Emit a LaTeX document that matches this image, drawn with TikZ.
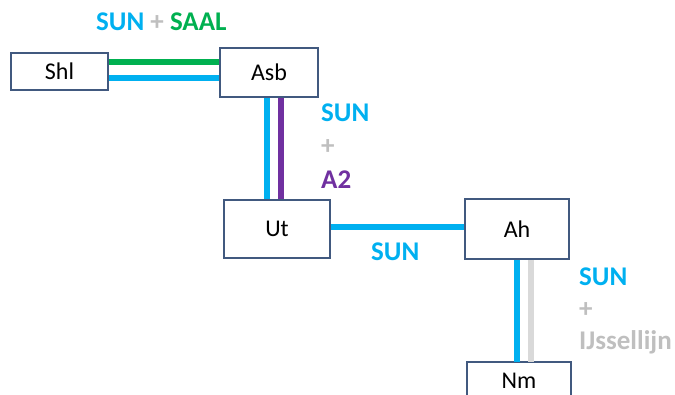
\documentclass[tikz,border=0pt]{standalone}
\usepackage{fontspec}
\setmainfont{Carlito}
\definecolor{sunblue}{HTML}{00B0F0}
\definecolor{saalgreen}{HTML}{00B050}
\definecolor{atwo}{HTML}{7030A0}
\definecolor{ijgray}{HTML}{D9D9D9}
\definecolor{plusgray}{HTML}{BFBFBF}
\definecolor{boxline}{HTML}{41597F}
\begin{document}
\begin{tikzpicture}[x=1pt,y=-1pt,
  station/.style={draw=boxline,line width=2pt,fill=white,inner sep=0pt,font=\fontsize{24}{28}\selectfont},
  track/.style={line width=6pt},
  lbl/.style={font=\bfseries\fontsize{27}{32}\selectfont,inner sep=0pt,anchor=base west}]
\useasboundingbox (0,0) rectangle (675,394);
\node[station,minimum width=97pt,minimum height=37pt] (shl) at (59.5,71.5) {Shl};
\node[station,minimum width=98pt,minimum height=49pt] (asb) at (269,72.5) {Asb};
\node[station,minimum width=106pt,minimum height=58pt] (ut) at (277,229) {Ut};
\node[station,minimum width=104pt,minimum height=60pt] (ah) at (517,229) {Ah};
% Nm box runs past the lower edge of the picture
\begin{scope}
\clip (0,0) rectangle (675,394);
\draw[draw=boxline,line width=2pt,fill=white] (467,362) rectangle (571,420);
\end{scope}
\coordinate (nmtop) at (519,362);
\node[inner sep=0pt,font=\fontsize{24}{28}\selectfont,anchor=base] (nm) at (519,388) {Nm};
% tracks
\draw[track,saalgreen] (shl.east |- 0,62) -- (asb.west |- 0,62);
\draw[track,sunblue] (shl.east |- 0,78) -- (asb.west |- 0,78);
\draw[track,sunblue] (asb.south -| 267,0) -- (ut.north -| 267,0);
\draw[track,atwo] (asb.south -| 281,0) -- (ut.north -| 281,0);
\draw[track,sunblue] (ut.east |- 0,227) -- (ah.west |- 0,227);
\draw[track,sunblue] (ah.south -| 517,0) -- (nmtop -| 517,0);
\draw[track,ijgray] (ah.south -| 531,0) -- (nmtop -| 531,0);
% labels
\node[lbl] (l1) at (96,30) {\textcolor{sunblue}{SUN} \textcolor{plusgray}{+} \textcolor{saalgreen}{SAAL}};
\node[lbl,sunblue] (l2a) at (321,121) {SUN};
\node[lbl,plusgray,anchor=west] (l2b) at (321,147) {+};
\node[lbl,atwo] (l2c) at (321,188) {A2};
\node[lbl,sunblue] (l3) at (371,260) {SUN};
\node[lbl,sunblue] (l4a) at (579,285) {SUN};
\node[lbl,plusgray,anchor=west] (l4b) at (579,310) {+};
\node[lbl,plusgray] (l4c) at (579,349) {IJssellijn};
\end{tikzpicture}
\end{document}
